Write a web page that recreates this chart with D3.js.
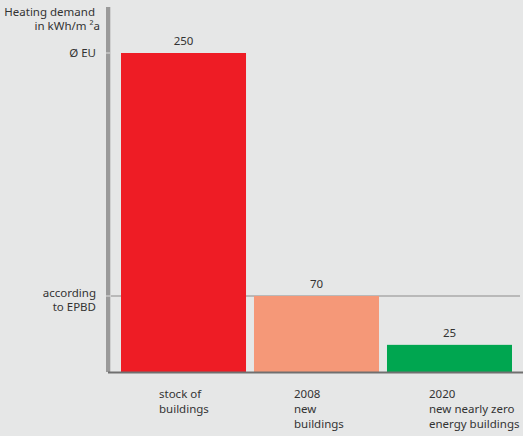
<!DOCTYPE html>
<html>
<head>
<meta charset="utf-8">
<script src="https://cdn.jsdelivr.net/npm/d3@7"></script>
<style>
  body { margin: 0; background: #e6e7e7; }
  text { font-family: "Noto Sans", sans-serif; font-size: 11.5px; fill: #333; }
</style>
</head>
<body>
<script>
// chart data
var categories = ["stock", "2008", "2020"];
var values = [250, 70, 25];
var barColors = ["#ee1c25", "#f59878", "#00a650"];
var catLabels = [["stock of", "buildings"], ["2008", "new", "buildings"], ["2020", "new nearly zero", "energy buildings"]];
var refLevels = [250, 70];
var refLabels = [["Ø EU"], ["according", "to EPBD"]];

var width = 523, height = 436;

var svg = d3.select("body").append("svg").attr("width", width).attr("height", height);

// schematic (not linear) value axis in the original, so piecewise scale
var y = d3.scaleLinear().domain([0, 70, 250]).range([372, 296, 53]);

var x = d3.scaleBand()
          .domain(categories)
          .range([121, 512])
          .paddingInner(0.06)
          .paddingOuter(0);

// reference line at the EPBD level
svg.append("line")
   .attr("x1", 106).attr("x2", 520)
   .attr("y1", y(refLevels[1])).attr("y2", y(refLevels[1]))
   .attr("stroke", "#aaa").attr("stroke-width", 1.5);

// bars
svg.selectAll("rect.bar").data(values).enter().append("rect")
   .attr("class", "bar")
   .attr("x", function(d, i){ return x(categories[i]); })
   .attr("y", function(d){ return y(d); })
   .attr("width", x.bandwidth())
   .attr("height", function(d){ return y(0) - y(d); })
   .attr("fill", function(d, i){ return barColors[i]; });

// value labels
svg.selectAll("text.val").data(values).enter().append("text")
   .attr("class", "val")
   .attr("x", function(d, i){ return x(categories[i]) + x.bandwidth() / 2; })
   .attr("y", function(d){ return y(d) - 8; })
   .attr("text-anchor", "middle")
   .text(function(d){ return d; });

// y axis: thick grey bar
svg.append("rect")
   .attr("x", 106).attr("y", 7).attr("width", 4).attr("height", y(0) - 7)
   .attr("fill", "#9a9a9a");
svg.append("line")
   .attr("x1", 110.5).attr("x2", 110.5).attr("y1", 7).attr("y2", y(0))
   .attr("stroke", "#d0d0d0").attr("stroke-width", 1);

// ticks on the axis bar
svg.selectAll("line.tick").data(refLevels).enter().append("line")
   .attr("class", "tick")
   .attr("x1", 106).attr("x2", 110)
   .attr("y1", function(d){ return y(d); }).attr("y2", function(d){ return y(d); })
   .attr("stroke", "#e0e0e0").attr("stroke-width", 1);

// baseline
svg.append("line")
   .attr("x1", 108).attr("x2", 523)
   .attr("y1", y(0) + 0.5).attr("y2", y(0) + 0.5)
   .attr("stroke", "#707070").attr("stroke-width", 2);

// axis title
svg.append("text").attr("x", 95).attr("y", 16).attr("text-anchor", "end").text("Heating demand");
svg.append("text").attr("x", 100).attr("y", 30).attr("text-anchor", "end").text("in kWh/m ²a");

// level labels
refLevels.forEach(function(lv, i){
  var lines = refLabels[i];
  var t = svg.append("text")
     .attr("x", 96)
     .attr("y", i === 0 ? y(lv) + 4 : y(lv) + 1)
     .attr("text-anchor", "end");
  lines.forEach(function(s, j){
    t.append("tspan").attr("x", 96).attr("dy", j === 0 ? 0 : 14).text(s);
  });
});

// category labels
categories.forEach(function(c, i){
  var lx = x(c) + 38 + i * 2;
  var t = svg.append("text").attr("x", lx).attr("y", 398);
  catLabels[i].forEach(function(s, j){
    t.append("tspan").attr("x", lx).attr("dy", j === 0 ? 0 : 15).text(s);
  });
});
</script>
</body>
</html>
